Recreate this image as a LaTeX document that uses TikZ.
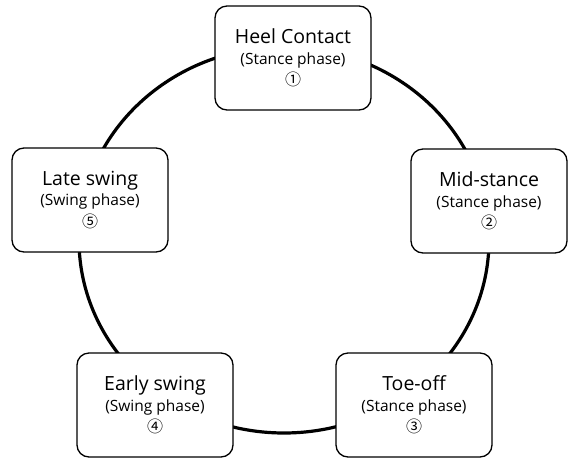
\documentclass[tikz,border=0pt]{standalone}
\usepackage{fontspec}
\setmainfont{Open Sans}
\newfontfamily\numfont{Noto Sans CJK KR}
\begin{document}
\begin{tikzpicture}[x=1pt, y=-1pt,
    phase/.style={draw, line width=1.3pt, fill=white, rounded corners=12pt,
      minimum width=156pt, minimum height=104pt, align=center, inner sep=0pt,
      font=\fontsize{15.5}{20.5}\selectfont}]
    \useasboundingbox (0,0) rectangle (568,459);
    \draw[line width=3.2pt] (284,240) ellipse [x radius=205pt, y radius=193pt];
    \foreach \i/\x/\y/\name/\kind/\num in {1/293/58/Heel Contact/Stance/①,
      2/489/201/Mid-stance/Stance/②, 3/414/405/Toe-off/Stance/③,
      4/155/405/Early swing/Swing/④, 5/90/200/Late swing/Swing/⑤}{
      \node[phase] (gait\i) at (\x,\y)
        {{\fontsize{19.5}{20.5}\selectfont \name}\\
         (\kind\ phase)\\[1pt]
         {\numfont\fontsize{16}{20.5}\selectfont \num}};
    }
\end{tikzpicture}
\end{document}
